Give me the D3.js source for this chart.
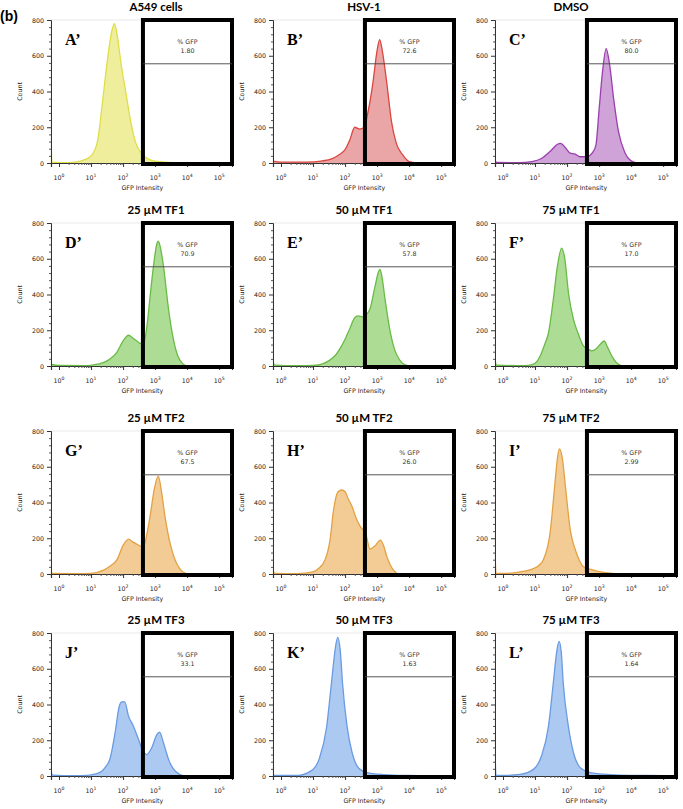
<html>
<head>
<meta charset="utf-8">
<title>GFP flow cytometry histograms</title>
<style>
  body { margin: 0; background: #fff; }
  svg { display: block; }
  .tick text { font-family: "DejaVu Sans", sans-serif; }
</style>
</head>
<body>
<div id="chart"></div>
<script src="https://d3js.org/d3.v7.min.js"></script>
<script>
// Panel titles, letters and gated % GFP values
const titles = ["A549 cells", "HSV-1", "DMSO",
                "25 µM TF1", "50 µM TF1", "75 µM TF1",
                "25 µM TF2", "50 µM TF2", "75 µM TF2",
                "25 µM TF3", "50 µM TF3", "75 µM TF3"];
const letters = ["A’", "B’", "C’", "D’", "E’", "F’", "G’", "H’", "I’", "J’", "K’", "L’"];
const gfpPct = ["1.80", "72.6", "80.0", "70.9", "57.8", "17.0", "67.5", "26.0", "2.99", "33.1", "1.63", "1.64"];

// Histograms: [log10 GFP intensity, count]
const histA = [[-0.25,140],[-0.22,5],[0.3,2],[0.7,12],[1.0,40],[1.2,120],[1.35,330],[1.5,560],[1.65,740],[1.73,780],[1.81,720],[1.95,540],[2.1,380],[2.25,220],[2.4,110],[2.6,50],[2.9,15],[3.3,5],[4,0],[5.4,0]];
const histB = [[-0.25,10],[0,5],[0.8,5],[1.3,12],[1.6,25],[1.8,45],[2.0,75],[2.15,130],[2.3,200],[2.45,190],[2.6,200],[2.72,290],[2.87,450],[3.0,630],[3.08,690],[3.15,640],[3.3,450],[3.45,230],[3.6,110],[3.8,45],[4.0,8],[4.3,0],[5.4,0]];
const histC = [[-0.25,15],[-0.2,3],[0.5,2],[0.9,8],[1.2,25],[1.5,70],[1.7,105],[1.8,110],[1.95,85],[2.1,55],[2.25,50],[2.4,35],[2.6,35],[2.8,60],[2.9,100],[3.0,300],[3.1,500],[3.22,640],[3.32,560],[3.46,350],[3.6,180],[3.8,60],[4.0,12],[4.2,0],[5.4,0]];
const histD = [[-0.25,10],[0,3],[0.9,2],[1.2,10],[1.4,20],[1.6,40],[1.8,75],[2.0,140],[2.17,172],[2.35,150],[2.5,130],[2.63,120],[2.75,230],[2.85,400],[2.95,560],[3.05,680],[3.1,698],[3.18,650],[3.26,560],[3.42,316],[3.57,150],[3.7,60],[3.85,15],[4.0,0],[5.4,0]];
const histE = [[-0.25,30],[-0.2,5],[0.5,2],[1.0,3],[1.3,12],[1.5,30],[1.7,60],[1.85,100],[2.0,150],[2.15,210],[2.3,270],[2.4,280],[2.55,275],[2.65,285],[2.78,320],[2.94,450],[3.05,530],[3.09,540],[3.15,500],[3.25,370],[3.41,190],[3.55,90],[3.7,35],[3.9,5],[4.1,0],[5.4,0]];
const histF = [[-0.25,35],[-0.2,5],[0.5,2],[0.85,5],[1.0,15],[1.16,56],[1.3,120],[1.42,186],[1.57,372],[1.7,560],[1.83,660],[1.92,610],[2.05,400],[2.2,260],[2.35,180],[2.51,112],[2.65,95],[2.77,85],[2.9,95],[3.05,125],[3.16,140],[3.25,110],[3.45,40],[3.65,5],[3.8,0],[5.4,0]];
const histG = [[-0.25,12],[-0.2,3],[0.5,2],[1.0,4],[1.39,22],[1.6,45],[1.81,80],[2.0,160],[2.17,195],[2.3,180],[2.45,165],[2.63,150],[2.75,230],[2.84,320],[2.98,480],[3.1,547],[3.2,460],[3.31,320],[3.47,170],[3.6,90],[3.75,35],[3.95,4],[4.1,0],[5.4,0]];
const histH = [[-0.25,25],[-0.2,4],[0.5,2],[1.0,12],[1.2,35],[1.32,60],[1.45,120],[1.53,190],[1.64,357],[1.78,460],[1.9,470],[2.0,460],[2.1,420],[2.22,376],[2.35,310],[2.48,264],[2.64,227],[2.78,140],[2.95,160],[3.1,190],[3.2,160],[3.3,100],[3.51,22],[3.7,0],[5.4,0]];
const histI = [[-0.25,150],[-0.22,5],[0,3],[0.53,12],[0.95,30],[1.1,45],[1.26,80],[1.47,230],[1.62,506],[1.7,650],[1.76,700],[1.85,650],[1.95,487],[2.1,246],[2.26,134],[2.4,70],[2.51,41],[2.82,22],[3.1,10],[3.4,4],[3.8,0],[5.4,0]];
const histJ = [[-0.25,30],[-0.2,5],[0.5,2],[0.86,3],[1.1,10],[1.28,20],[1.45,50],[1.59,95],[1.75,242],[1.88,390],[1.96,415],[2.05,415],[2.17,335],[2.32,280],[2.48,205],[2.6,150],[2.74,120],[2.9,160],[3.05,230],[3.14,246],[3.26,186],[3.42,93],[3.55,45],[3.68,19],[3.9,0],[5.4,0]];
const histK = [[-0.25,10],[-0.2,3],[0.5,3],[0.95,30],[1.2,100],[1.42,270],[1.58,530],[1.7,720],[1.77,775],[1.85,700],[1.92,520],[2.06,280],[2.22,130],[2.42,45],[2.72,18],[3.2,8],[4,3],[5.4,0]];
const histL = [[-0.25,165],[-0.22,5],[0,3],[0.53,9],[0.95,37],[1.2,112],[1.42,279],[1.57,521],[1.68,700],[1.75,753],[1.82,690],[1.88,521],[2.04,279],[2.2,130],[2.41,47],[2.72,19],[3.0,12],[3.34,8],[4,4],[5,2],[5.4,0]];
const hists = [histA, histB, histC, histD, histE, histF, histG, histH, histI, histJ, histK, histL];

// Tick values
const yTicks = [0, 200, 400, 600, 800];
const xDecades = [0, 1, 2, 3, 4, 5];
const gateMin = 2.62;   // gate lower bound (log10)
const gateLine = 555;   // gate marker line (count)

// Colours per panel: [fill, stroke]
const colours = [
  ["#eeee9c", "#dede4a"], ["#eaa6a6", "#d9473f"], ["#cfa2d8", "#9b3fae"],
  ["#addc94", "#69bb46"], ["#addc94", "#69bb46"], ["#addc94", "#69bb46"],
  ["#f2cc94", "#e3a143"], ["#f2cc94", "#e3a143"], ["#f2cc94", "#e3a143"],
  ["#abc9f1", "#6a9be2"], ["#abc9f1", "#6a9be2"], ["#abc9f1", "#6a9be2"]
];

const W = 683, H = 809;
const pw = 181, ph = 143;
const colX = [51, 273, 495];
const rowY = [20, 223, 431, 633];
const titleX = [156, 364, 571];

const svg = d3.select("#chart").append("svg")
    .attr("width", W).attr("height", H)
    .style("background", "#fff");

svg.append("text")
    .attr("x", 0).attr("y", 21)
    .style("font-family", "'Liberation Sans', Arial, sans-serif")
    .style("font-weight", "bold")
    .style("font-size", "14px")
    .text("(b)");

const x = d3.scaleLinear().domain([-0.25, 5.4]).range([0, pw]);
const y = d3.scaleLinear().domain([0, 800]).range([ph, 0]);

const area = d3.area()
    .x(d => x(d[0]))
    .y0(y(0))
    .y1(d => y(d[1]))
    .curve(d3.curveMonotoneX);
const line = d3.line()
    .x(d => x(d[0]))
    .y(d => y(d[1]))
    .curve(d3.curveMonotoneX);

const minorX = [];
for (let dcd = 0; dcd < 5; dcd++) {
  for (let k = 2; k <= 9; k++) minorX.push(dcd + Math.log10(k));
}
const minorY = d3.range(0, 801, 40).filter(v => v % 200 !== 0);

hists.forEach((data, i) => {
  const col = i % 3, row = Math.floor(i / 3);
  const g = svg.append("g")
      .attr("transform", `translate(${colX[col]},${rowY[row]})`);

  // Title
  svg.append("text")
      .attr("x", titleX[col])
      .attr("y", rowY[row] - 9)
      .attr("text-anchor", "middle")
      .style("font-family", "Lato, 'Open Sans', sans-serif")
      .style("font-weight", "bold")
      .style("font-size", "11.5px")
      .text(titles[i]);

  // faint plot frame
  g.append("rect")
      .attr("width", pw).attr("height", ph)
      .attr("fill", "none")
      .attr("stroke", "#e4e4e4")
      .attr("stroke-width", 0.8);

  const clipId = "clip" + i;
  g.append("clipPath").attr("id", clipId)
    .append("rect").attr("width", pw).attr("height", ph + 1);

  const plot = g.append("g").attr("clip-path", `url(#${clipId})`);
  plot.append("path")
      .datum(data)
      .attr("d", area)
      .attr("fill", colours[i][0]);
  plot.append("path")
      .datum(data)
      .attr("d", line)
      .attr("fill", "none")
      .attr("stroke", colours[i][1])
      .attr("stroke-width", 1.3);

  // Y axis
  const yAx = g.append("g")
      .call(d3.axisLeft(y).tickValues(yTicks).tickSize(4).tickPadding(3));
  yAx.selectAll("text").style("font-size", "6.3px").attr("fill", "#222");
  yAx.select(".domain").attr("stroke", "#333");
  yAx.selectAll("line").attr("stroke", "#333");
  g.append("g")
      .call(d3.axisLeft(y).tickValues(minorY).tickSize(2).tickFormat(""))
      .call(a => a.select(".domain").remove())
      .selectAll("line").attr("stroke", "#555");

  // X axis
  const xAx = g.append("g")
      .attr("transform", `translate(0,${ph})`)
      .call(d3.axisBottom(x).tickValues(xDecades).tickSize(4).tickFormat(""));
  xAx.select(".domain").attr("stroke", "#333").attr("stroke-width", 1.2);
  xAx.selectAll("line").attr("stroke", "#333");
  g.append("g")
      .attr("transform", `translate(0,${ph})`)
      .call(d3.axisBottom(x).tickValues(minorX).tickSize(2).tickFormat(""))
      .call(a => a.select(".domain").remove())
      .selectAll("line").attr("stroke", "#555");

  const lab = g.append("g").selectAll("text")
      .data(xDecades)
      .join("text")
      .attr("x", d => x(d))
      .attr("y", ph + 17)
      .attr("text-anchor", "middle")
      .style("font-family", "'DejaVu Sans', sans-serif")
      .style("font-size", "6.3px")
      .attr("fill", "#222");
  lab.append("tspan").text("10");
  lab.append("tspan").attr("dy", -3).style("font-size", "4.6px").text(d => d);

  // axis titles
  g.append("text")
      .attr("x", x(2.6))
      .attr("y", ph + 27)
      .attr("text-anchor", "middle")
      .style("font-family", "'DejaVu Sans', sans-serif")
      .style("font-size", "6.3px")
      .attr("fill", "#222")
      .text("GFP Intensity");
  g.append("text")
      .attr("transform", `translate(-29,${ph / 2}) rotate(-90)`)
      .attr("text-anchor", "middle")
      .style("font-family", "'DejaVu Sans', sans-serif")
      .style("font-size", "6.3px")
      .attr("fill", "#222")
      .text("Count");

  // Gate box
  const gx0 = x(gateMin), gx1 = pw;
  g.append("rect")
      .attr("x", gx0).attr("y", y(800))
      .attr("width", gx1 - gx0).attr("height", y(0) - y(800) + 1)
      .attr("fill", "none")
      .attr("stroke", "#000")
      .attr("stroke-width", 4);
  g.append("line")
      .attr("x1", gx0).attr("x2", gx1)
      .attr("y1", y(gateLine)).attr("y2", y(gateLine))
      .attr("stroke", "#444")
      .attr("stroke-width", 0.9);
  const cx = (gx0 + gx1) / 2;
  g.append("text")
      .attr("x", cx).attr("y", y(800) + 24)
      .attr("text-anchor", "middle")
      .style("font-family", "'DejaVu Sans', sans-serif")
      .style("font-size", "6.3px")
      .attr("fill", "#333")
      .text("% GFP");
  g.append("text")
      .attr("x", cx).attr("y", y(800) + 33)
      .attr("text-anchor", "middle")
      .style("font-family", "'DejaVu Sans', sans-serif")
      .style("font-size", "6.3px")
      .attr("fill", "#333")
      .text(gfpPct[i]);

  // Panel letter
  g.append("text")
      .attr("x", 14).attr("y", 25)
      .style("font-family", "'Liberation Serif', 'DejaVu Serif', serif")
      .style("font-weight", "bold")
      .style("font-size", "16px")
      .text(letters[i]);
});
</script>
</body>
</html>
